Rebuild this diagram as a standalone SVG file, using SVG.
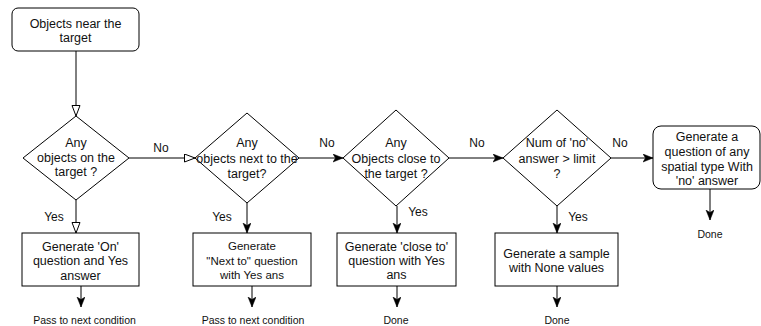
<svg xmlns="http://www.w3.org/2000/svg" width="761" height="326" viewBox="0 0 761 326">
  <style>
    .box { fill: #ffffff; stroke: #000000; stroke-width: 1; }
    .t { font-family: "Liberation Sans", Arial, Helvetica, sans-serif; font-size: 12.5px; fill: #111111; text-anchor: middle; }
    .t2 { font-size: 11.5px; }
    .lbl { font-family: "Liberation Sans", Arial, Helvetica, sans-serif; font-size: 12px; fill: #111111; text-anchor: middle; }
    .sm { font-family: "Liberation Sans", Arial, Helvetica, sans-serif; font-size: 10.5px; fill: #111111; text-anchor: middle; }
    .edge { fill: none; stroke: #000000; stroke-width: 1; }
    .open { marker-end: url(#openArrow); }
    .fill { marker-end: url(#classicArrow); }
  </style>
  <defs>
    <marker id="openArrow" markerUnits="userSpaceOnUse" markerWidth="12" markerHeight="10" refX="11" refY="4.5" orient="auto">
      <path d="M0.5,0.5 L11,4.5 L0.5,8.5 Z" fill="#ffffff" stroke="#000000" stroke-width="1"/>
    </marker>
    <marker id="classicArrow" markerUnits="userSpaceOnUse" markerWidth="11" markerHeight="9" refX="10" refY="4" orient="auto">
      <path d="M0,0 L10,4 L0,8 L2.5,4 Z" fill="#000000" stroke="#000000" stroke-width="0.5"/>
    </marker>
  </defs>
  <rect width="761" height="326" fill="#ffffff"/>

  <!-- connectors -->
  <g id="connectors">
    <line class="edge open" x1="76" y1="51" x2="76" y2="116"/>
    <line class="edge open" x1="129" y1="158" x2="195" y2="158"/>
    <line class="edge open" x1="76" y1="200" x2="76" y2="233"/>
    <line class="edge fill" x1="81" y1="286" x2="81" y2="307"/>

    <line class="edge fill" x1="299" y1="158" x2="343" y2="158"/>
    <line class="edge fill" x1="247" y1="203" x2="247" y2="233"/>
    <line class="edge fill" x1="252" y1="286" x2="252" y2="307"/>

    <line class="edge fill" x1="449" y1="158" x2="503" y2="158"/>
    <line class="edge fill" x1="397" y1="206" x2="397" y2="233"/>
    <line class="edge fill" x1="397" y1="286" x2="397" y2="307"/>

    <line class="edge fill" x1="611" y1="158" x2="653" y2="158"/>
    <line class="edge fill" x1="557" y1="206" x2="557" y2="233"/>
    <line class="edge fill" x1="557" y1="286" x2="557" y2="307"/>

    <line class="edge fill" x1="710" y1="189" x2="710" y2="220"/>

    <text class="lbl" x="161" y="152">No</text>
    <text class="lbl" x="54" y="221">Yes</text>
    <text class="lbl" x="327" y="147">No</text>
    <text class="lbl" x="222" y="221">Yes</text>
    <text class="lbl" x="477" y="147">No</text>
    <text class="lbl" x="418" y="216">Yes</text>
    <text class="lbl" x="620" y="147">No</text>
    <text class="lbl" x="578" y="221">Yes</text>

    <text class="sm" x="84.5" y="323.5">Pass to next condition</text>
    <text class="sm" x="253" y="323.5">Pass to next condition</text>
    <text class="sm" x="396" y="323.5">Done</text>
    <text class="sm" x="557" y="323.5">Done</text>
    <text class="sm" x="710" y="237.5">Done</text>
  </g>

  <g id="start">
    <rect class="box" x="12" y="8" width="127" height="43" rx="6"/>
    <text class="t" x="75.5" y="28">Objects near the</text>
    <text class="t" x="75.5" y="42">target</text>
  </g>

  <g id="check-on">
    <polygon class="box" points="76,116 129,158 76,200 23,158"/>
    <text class="t" x="76" y="147">Any</text>
    <text class="t" x="76" y="161.5">objects on the</text>
    <text class="t" x="76" y="176">target ?</text>
  </g>

  <g id="gen-on">
    <rect class="box" x="22" y="233" width="117" height="53"/>
    <text class="t" x="80.5" y="250.5">Generate 'On'</text>
    <text class="t" x="80.5" y="265">question and Yes</text>
    <text class="t" x="80.5" y="279.5">answer</text>
  </g>

  <g id="check-next-to">
    <polygon class="box" points="247,113 299,158 247,203 195,158"/>
    <text class="t" x="247" y="147">Any</text>
    <text class="t" x="247" y="163">objects next to the</text>
    <text class="t" x="247" y="178">target?</text>
  </g>

  <g id="gen-next-to">
    <rect class="box" x="193" y="233" width="118" height="53"/>
    <text class="t t2" x="252" y="250">Generate</text>
    <text class="t t2" x="252" y="265">"Next to" question</text>
    <text class="t t2" x="252" y="279">with Yes ans</text>
  </g>

  <g id="check-close-to">
    <polygon class="box" points="396,110 449,158 396,206 343,158"/>
    <text class="t" x="396" y="147">Any</text>
    <text class="t" x="396" y="163">Objects close to</text>
    <text class="t" x="396" y="178">the target ?</text>
  </g>

  <g id="gen-close-to">
    <rect class="box" x="337" y="233" width="119" height="53"/>
    <text class="t" x="396.5" y="251">Generate 'close to'</text>
    <text class="t" x="396.5" y="265">question with Yes</text>
    <text class="t" x="396.5" y="279">ans</text>
  </g>

  <g id="check-limit">
    <polygon class="box" points="557,110 611,158 557,206 503,158"/>
    <text class="t" x="557" y="147">Num of 'no'</text>
    <text class="t" x="557" y="163">answer &gt; limit</text>
    <text class="t" x="557" y="178">?</text>
  </g>

  <g id="gen-none">
    <rect class="box" x="495" y="233" width="123" height="53"/>
    <text class="t" x="556.5" y="257.5">Generate a sample</text>
    <text class="t" x="556.5" y="272">with None values</text>
  </g>

  <g id="gen-no-answer">
    <rect class="box" x="653" y="126" width="107" height="63" rx="8"/>
    <text class="t" x="707" y="141">Generate a</text>
    <text class="t" x="707" y="156">question of any</text>
    <text class="t" x="707" y="170.5">spatial type With</text>
    <text class="t" x="707" y="185">'no' answer</text>
  </g>
</svg>
